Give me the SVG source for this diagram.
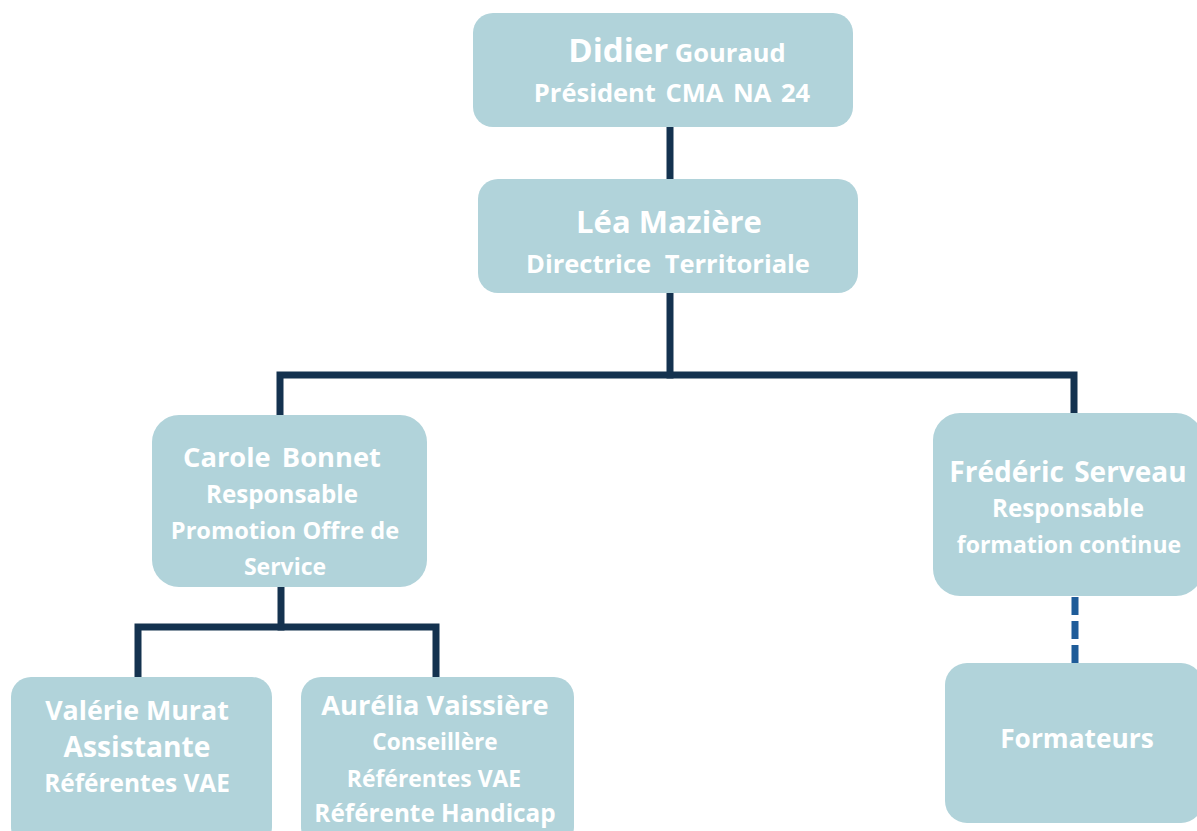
<svg xmlns="http://www.w3.org/2000/svg" width="1197" height="831" viewBox="0 0 1197 831">
<style>
.box{fill:#B1D3DA;}
.t{font-family:"Open Sans","Noto Sans","Liberation Sans",sans-serif;font-weight:700;fill:#FFFFFF;text-anchor:middle;font-variant-ligatures:none;}
.ln{stroke:#14324F;stroke-width:7;fill:none;stroke-linecap:square;}
.dash{stroke:#1F5C99;stroke-width:7;fill:none;stroke-dasharray:18 6;}
</style>
<rect width="1197" height="831" fill="#FFFFFF"/>
<g id="connectors">
<line class="ln" x1="670" y1="127" x2="670" y2="179"/>
<line class="ln" x1="670" y1="293" x2="670" y2="375"/>
<polyline class="ln" points="280,414 280,375 1074,375 1074,412"/>
<line class="ln" x1="281" y1="588" x2="281" y2="627"/>
<polyline class="ln" points="138,676 138,627 436,627 436,676"/>
<line class="dash" x1="1075" y1="597" x2="1075" y2="663"/>
</g>
<g id="node-gouraud">
<rect class="box" x="473" y="13" width="380" height="114" rx="20"/>
<text class="t" x="677" y="62"><tspan font-size="33">Didier</tspan><tspan font-size="25.5"> Gouraud</tspan></text>
<text class="t" x="672" y="102" font-size="25.5" word-spacing="3">Président CMA NA 24</text>
</g>
<g id="node-maziere">
<rect class="box" x="478" y="179" width="380" height="114" rx="20"/>
<text class="t" x="669" y="233" font-size="31">Léa Mazière</text>
<text class="t" x="668" y="273" font-size="25.5" word-spacing="7">Directrice Territoriale</text>
</g>
<g id="node-bonnet">
<rect class="box" x="152" y="415" width="275" height="172" rx="27"/>
<text class="t" x="282" y="467" font-size="27.3" word-spacing="4">Carole Bonnet</text>
<text class="t" x="282" y="503" font-size="24.2">Responsable</text>
<text class="t" x="285" y="539" font-size="23.6">Promotion Offre de</text>
<text class="t" x="285" y="575" font-size="23">Service</text>
</g>
<g id="node-serveau">
<rect class="box" x="933" y="413" width="270" height="183" rx="27"/>
<text class="t" x="1068" y="482" font-size="28" word-spacing="3">Frédéric Serveau</text>
<text class="t" x="1068" y="517" font-size="24.2">Responsable</text>
<text class="t" x="1069" y="553" font-size="23">formation continue</text>
</g>
<g id="node-formateurs">
<rect class="box" x="945" y="663" width="258" height="160" rx="22"/>
<text class="t" x="1077" y="748" font-size="26.3">Formateurs</text>
</g>
<g id="node-murat">
<rect class="box" x="11" y="677" width="261" height="170" rx="20"/>
<text class="t" x="137" y="720" font-size="26.8">Valérie Murat</text>
<text class="t" x="137" y="757" font-size="28.2">Assistante</text>
<text class="t" x="137" y="792" font-size="24.4">Référentes VAE</text>
</g>
<g id="node-vaissiere">
<rect class="box" x="301" y="677" width="273" height="170" rx="20"/>
<text class="t" x="435" y="715" font-size="27.2">Aurélia Vaissière</text>
<text class="t" x="435" y="750" font-size="22.6">Conseillère</text>
<text class="t" x="434" y="787" font-size="22.9">Référentes VAE</text>
<text class="t" x="435" y="822" font-size="24.3">Référente Handicap</text>
</g>
</svg>
